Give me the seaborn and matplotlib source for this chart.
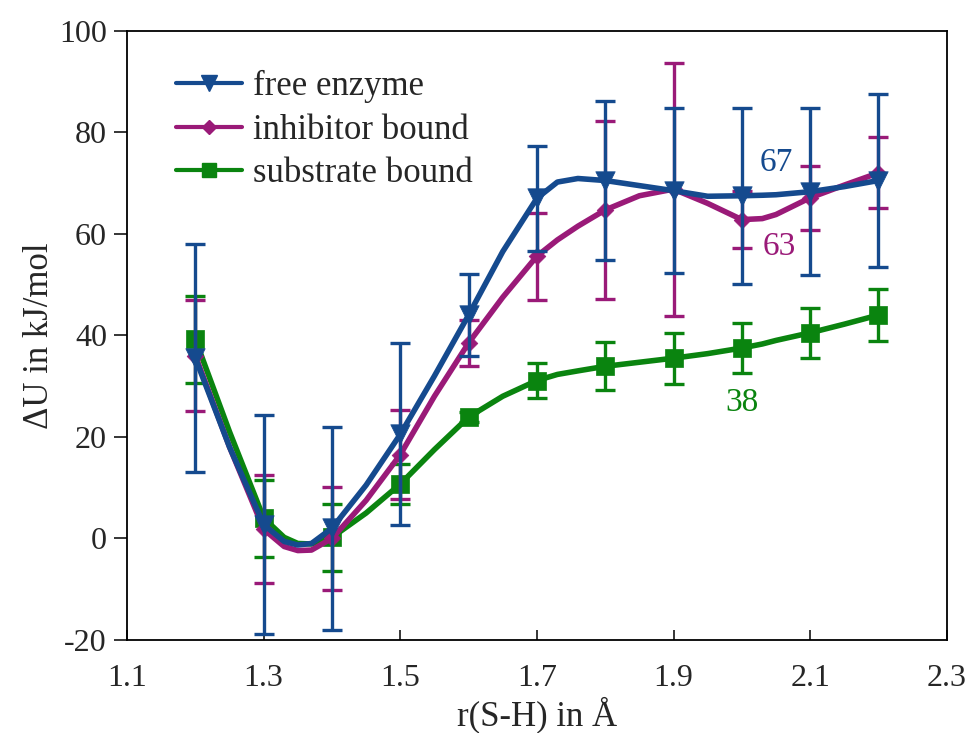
import numpy as np
import pandas as pd
import matplotlib
matplotlib.use("Agg")
import matplotlib.pyplot as plt
from matplotlib.lines import Line2D
import seaborn as sns

# Sampled S-H distances (markers, error bars)
r_pts = [1.2, 1.3, 1.4, 1.5, 1.6, 1.7, 1.8, 1.9, 2.0, 2.1, 2.2]
free_pts = [35.5, 2.7, 2.0, 20.5, 44.0, 67.0, 70.5, 68.5, 67.5, 68.3, 70.5]
free_err = [22.5, 21.6, 20.0, 17.9, 8.1, 10.3, 15.7, 16.2, 17.3, 16.4, 17.0]
inhib_pts = [36.0, 1.8, 0.0, 16.5, 38.5, 55.6, 64.7, 68.8, 62.8, 67.1, 72.0]
inhib_err = [11.0, 10.6, 10.2, 8.8, 4.5, 8.6, 17.6, 24.9, 5.6, 6.3, 7.0]
subst_pts = [39.2, 4.0, 0.2, 10.7, 23.9, 31.1, 33.9, 35.5, 37.5, 40.5, 44.0]
subst_err = [8.6, 7.6, 6.6, 4.0, 1.0, 3.5, 4.7, 5.0, 5.0, 4.9, 5.2]

# Profile curves on a finer grid
r_fine = [1.2, 1.25, 1.3, 1.33, 1.35, 1.37, 1.4, 1.45, 1.5, 1.55, 1.6, 1.65,
          1.7, 1.73, 1.76, 1.8, 1.85, 1.9, 1.95, 2.0, 2.03, 2.05, 2.1, 2.15, 2.2]
free_curve = [35.5, 18.0, 2.7, -0.6, -1.3, -1.0, 2.0, 10.5, 20.5, 32.0, 44.0, 56.5,
              67.0, 70.2, 70.9, 70.5, 69.5, 68.5, 67.4, 67.5, 67.6, 67.7, 68.3, 69.3, 70.5]
inhib_curve = [36.0, 18.0, 1.8, -1.6, -2.4, -2.3, 0.0, 7.5, 16.5, 28.0, 38.5, 47.5,
               55.6, 58.8, 61.5, 64.7, 67.5, 68.8, 66.0, 62.8, 63.0, 63.8, 67.1, 69.6, 72.0]
subst_curve = [39.2, 21.0, 4.0, 0.2, -1.0, -1.1, 0.2, 5.0, 10.7, 17.5, 23.9, 28.0,
               31.1, 32.3, 33.0, 33.9, 34.7, 35.5, 36.4, 37.5, 38.3, 39.0, 40.5, 42.2, 44.0]

labels = ["free enzyme", "inhibitor bound", "substrate bound"]
colors = ["#154a8e", "#9a1a78", "#0a840f"]
markers = ["v", "D", "s"]
msizes = [14, 8.5, 12.5]

# value annotations: text, x, y
note_text = ["67", "63", "38"]
note_x = [2.05, 2.055, 2.0]
note_y = [74.0, 57.5, 26.8]

pts = pd.DataFrame({"r": r_pts * 3,
                    "dU": free_pts + inhib_pts + subst_pts,
                    "err": free_err + inhib_err + subst_err,
                    "state": sum([[l] * len(r_pts) for l in labels], [])})
curves = pd.DataFrame({"r": r_fine * 3,
                       "dU": free_curve + inhib_curve + subst_curve,
                       "state": sum([[l] * len(r_fine) for l in labels], [])})

sns.set_theme(style="ticks")
plt.rcParams["font.family"] = ["Liberation Serif", "DejaVu Serif"]

fig = plt.figure(figsize=(9.7, 7.33), dpi=100)
ax = fig.add_axes([0.131, 0.127, 0.845, 0.831])

# substrate first, free enzyme last (drawn on top)
order = [2, 1, 0]
for k, i in enumerate(order):
    lab = labels[i]
    z = 3 + 3 * k
    c = curves[curves.state == lab]
    p = pts[pts.state == lab]
    ax.errorbar(p.r, p.dU, yerr=p.err, fmt="none", ecolor=colors[i],
                elinewidth=2.4, capsize=7, capthick=2.4, zorder=z)
    sns.lineplot(data=c, x="r", y="dU", color=colors[i], lw=4.0,
                 ax=ax, legend=False, zorder=z + 1, sort=False)
    sns.scatterplot(data=p, x="r", y="dU", color=colors[i], marker=markers[i],
                    s=msizes[i] ** 2, edgecolor=colors[i], linewidth=0.5,
                    ax=ax, legend=False, zorder=z + 2)

ax.set_xlim(1.1, 2.3)
ax.set_ylim(-20, 100)
ax.set_xticks([1.1, 1.3, 1.5, 1.7, 1.9, 2.1, 2.3])
ax.set_xticklabels(["1.1", "1.3", "1.5", "1.7", "1.9", "2.1", "2.3"])
ax.set_yticks([-20, 0, 20, 40, 60, 80, 100])
ax.set_yticklabels(["-20", "0", "20", "40", "60", "80", "100"])
ax.tick_params(axis="x", direction="in", length=7, width=1.3, labelsize=23, pad=17)
ax.tick_params(axis="y", direction="out", length=9.5, width=1.3, labelsize=23, pad=5)
for s in ax.spines.values():
    s.set_linewidth(1.3)
    s.set_color("black")

ax.set_xlabel("r(S-H) in Å", fontsize=25, labelpad=3)
ax.set_ylabel("ΔU in kJ/mol", fontsize=25, labelpad=2)

handles = [Line2D([0], [0], color=colors[i], lw=3, marker=markers[i],
                  markersize=msizes[i] * 0.85, markeredgecolor=colors[i])
           for i in range(3)]
ax.legend(handles, labels, loc="upper left", bbox_to_anchor=(0.06, 0.935),
          frameon=False, fontsize=25, handlelength=1.9, handletextpad=0.3,
          labelspacing=0.3, borderaxespad=0, borderpad=0)

for i in range(3):
    ax.text(note_x[i], note_y[i], note_text[i], color=colors[i], fontsize=24,
            ha="center", va="center", zorder=20)

fig.savefig("out.png", dpi=100)
